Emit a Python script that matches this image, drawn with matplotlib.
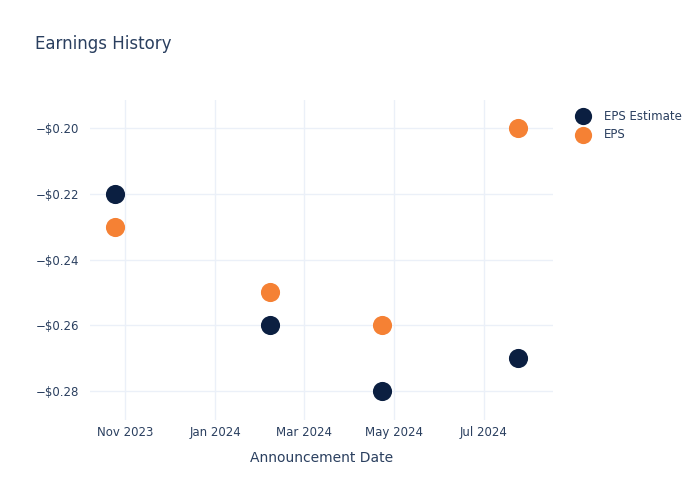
import numpy as np
import pandas as pd
import matplotlib.pyplot as plt
import matplotlib.dates as mdates
from matplotlib.ticker import FuncFormatter

dates = pd.to_datetime(['2023-10-25', '2024-02-07', '2024-04-23', '2024-07-24'])
eps_estimate = [-0.22, -0.26, -0.28, -0.27]
eps_actual = [-0.23, -0.25, -0.26, -0.20]

text_color = '#2a3f5f'
grid_color = '#ebf0f8'

fig = plt.figure(figsize=(7, 5), dpi=100)
ax = fig.add_axes([90 / 700, 80 / 500, 463 / 700, 320 / 500])

ax.scatter(dates, eps_estimate, s=190, color='#0b1f41', label='EPS Estimate', zorder=3, linewidths=0)
ax.scatter(dates, eps_actual, s=190, color='#f58134', label='EPS', zorder=3, linewidths=0)

ax.set_xlim(pd.Timestamp('2023-10-08'), pd.Timestamp('2024-08-17'))
ax.set_ylim(-0.2888, -0.1915)

ax.xaxis.set_major_locator(mdates.MonthLocator(bymonth=[1, 3, 5, 7, 11]))
ax.xaxis.set_major_formatter(mdates.DateFormatter('%b %Y'))
ax.set_yticks([-0.20, -0.22, -0.24, -0.26, -0.28])
ax.yaxis.set_major_formatter(FuncFormatter(lambda v, p: '\u2212$%.2f' % abs(v)))

ax.grid(True, color=grid_color, linewidth=1)
ax.set_axisbelow(True)
for s in ax.spines.values():
    s.set_visible(False)
ax.tick_params(length=0, colors=text_color, labelsize=8.5)
ax.tick_params(axis='x', pad=4)
ax.tick_params(axis='y', pad=8)

ax.set_xlabel('Announcement Date', color=text_color, fontsize=10, labelpad=9)
fig.text(35 / 700, 1 - 44 / 500, 'Earnings History', color=text_color, fontsize=12, va='center')

leg = ax.legend(loc='upper left', bbox_to_anchor=(1.03, 0.985), frameon=False,
                fontsize=8.5, labelcolor=text_color, handletextpad=0.75,
                borderaxespad=0, labelspacing=0.45, markerscale=0.9)

plt.savefig('out.png', dpi=100)
